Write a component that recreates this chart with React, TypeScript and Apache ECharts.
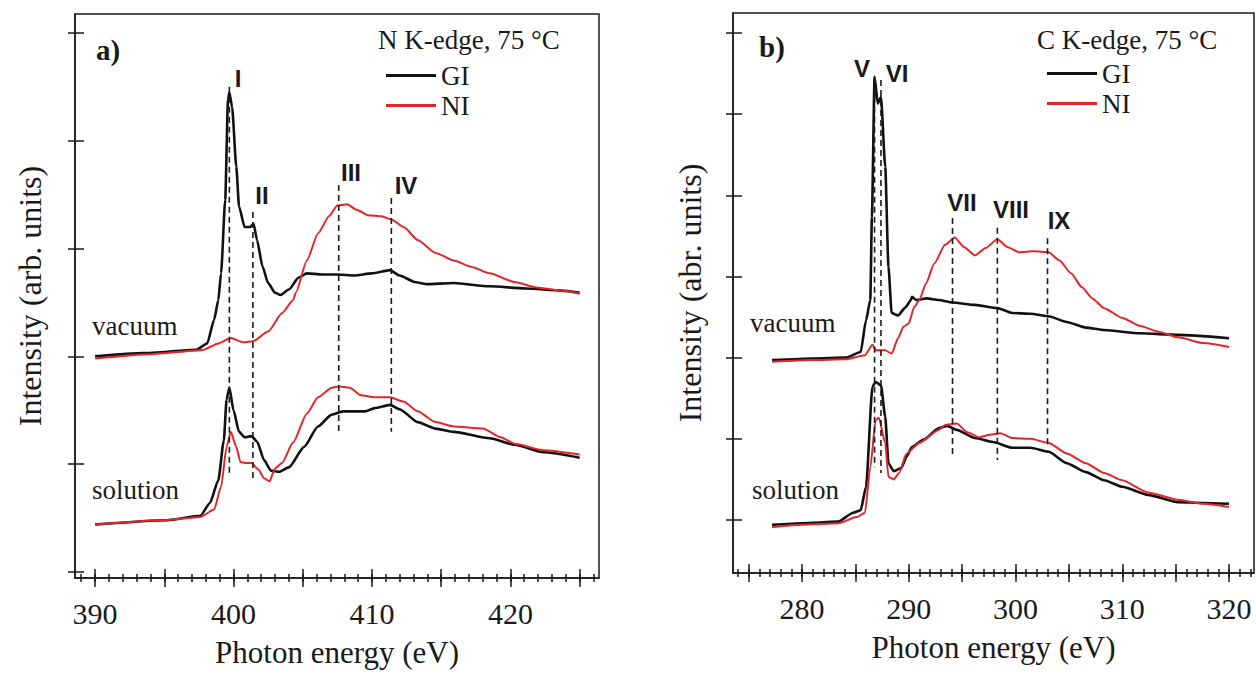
import React, { useEffect, useRef } from "react";
import * as echarts from "echarts";

// ---------------- DATA ----------------
// Panel a: N K-edge (x: photon energy eV, y: intensity in tick units)
const giVacuumA: number[][] = [
  [390, 2.0], [393.5, 2.03], [397.3, 2.06], [398.1, 2.12], [398.6, 2.34], [398.9, 2.52], [399.1, 2.77],
  [399.4, 3.45], [399.6, 4.38], [399.7, 4.45], [399.9, 4.31], [400.2, 3.76], [400.4, 3.39], [400.8, 3.2],
  [401.2, 3.2], [401.45, 3.23], [401.7, 3.08], [402.1, 2.83], [402.5, 2.68], [403.0, 2.59], [403.4, 2.57],
  [404.0, 2.62], [404.7, 2.73], [405.3, 2.77], [406.4, 2.76], [407.6, 2.76], [408.7, 2.75], [410.0, 2.77],
  [411.3, 2.8], [412.0, 2.75], [413.1, 2.69], [413.9, 2.67], [415.9, 2.68], [418.5, 2.65], [421.1, 2.63],
  [423.7, 2.61], [425.0, 2.59],
];
const niVacuumA: number[][] = [
  [390, 1.98], [394, 2.02], [397.8, 2.06], [398.9, 2.12], [399.8, 2.17], [400.7, 2.13], [401.4, 2.14],
  [402.5, 2.23], [403.5, 2.4], [404.3, 2.52], [404.5, 2.59], [405.3, 2.89], [406.1, 3.14], [406.9, 3.3],
  [407.5, 3.4], [408.2, 3.41], [408.9, 3.36], [409.7, 3.31], [410.7, 3.3], [411.4, 3.27], [412.3, 3.2],
  [413.3, 3.08], [414.6, 2.96], [415.9, 2.89], [417.2, 2.83], [418.5, 2.77], [420.3, 2.69], [421.9, 2.64],
  [423.7, 2.61], [425.0, 2.58],
];
const giSolutionA: number[][] = [
  [390, 0.44], [395.2, 0.48], [397.6, 0.52], [398.3, 0.64], [398.9, 0.85], [399.3, 1.22], [399.5, 1.6],
  [399.7, 1.71], [400.0, 1.5], [400.4, 1.3], [400.8, 1.25], [401.3, 1.26], [401.7, 1.21], [402.2, 1.04],
  [402.7, 0.94], [403.3, 0.93], [404.0, 0.97], [405.1, 1.16], [406.1, 1.35], [407.1, 1.46], [407.9, 1.49],
  [409.5, 1.49], [410.2, 1.52], [411.3, 1.55], [412.0, 1.51], [413.3, 1.39], [414.6, 1.33], [415.9, 1.3],
  [418.5, 1.24], [420.3, 1.18], [422.4, 1.11], [425.0, 1.06],
];
const niSolutionA: number[][] = [
  [390, 0.44], [395, 0.48], [397.6, 0.51], [398.6, 0.58], [399.1, 0.79], [399.5, 1.16], [399.8, 1.3],
  [400.2, 1.16], [400.5, 1.02], [400.9, 1.01], [401.3, 1.01], [401.8, 0.95], [402.2, 0.87], [402.6, 0.84],
  [403.0, 0.96], [403.5, 1.01], [404.3, 1.2], [405.3, 1.47], [406.1, 1.62], [407.1, 1.71], [407.6, 1.72],
  [408.4, 1.71], [409.2, 1.64], [410.2, 1.62], [411.3, 1.62], [412.3, 1.58], [413.3, 1.49], [414.6, 1.39],
  [415.9, 1.35], [418.0, 1.33], [419.3, 1.25], [420.3, 1.19], [422.4, 1.13], [425.0, 1.09],
];
const markerNamesA = ["I", "II", "III", "IV"];
const markerEnergyA = [399.7, 401.4, 407.6, 411.4];
const markerTopA = [4.5, 3.34, 3.59, 3.47];
const markerBottomA = [0.92, 0.85, 1.27, 1.3];

// Panel b: C K-edge
const giVacuumB: number[][] = [
  [277.2, 1.97], [281, 1.99], [284.1, 2.0], [285.5, 2.07], [286.0, 2.46], [286.4, 2.71], [286.55, 3.73],
  [286.8, 5.46], [287.1, 5.13], [287.4, 5.21], [287.8, 4.35], [288.1, 3.12], [288.4, 2.55], [289.0, 2.52],
  [289.7, 2.62], [290.2, 2.71], [290.3, 2.75], [290.7, 2.71], [291.7, 2.73], [292.8, 2.71], [294.1, 2.68],
  [296.2, 2.65], [298.3, 2.61], [299.7, 2.55], [301.4, 2.54], [303.1, 2.51], [304.8, 2.44], [306.6, 2.37],
  [308.3, 2.34], [311.7, 2.3], [315.2, 2.28], [320.0, 2.24],
];
const niVacuumB: number[][] = [
  [277.2, 1.95], [281, 1.97], [284.1, 1.98], [285.9, 2.03], [286.6, 2.16], [286.9, 2.09], [287.8, 2.09],
  [288.4, 2.05], [289.0, 2.24], [289.5, 2.38], [290.0, 2.42], [290.5, 2.62], [291.0, 2.71], [291.6, 2.91],
  [292.4, 3.16], [293.4, 3.39], [294.3, 3.48], [295.2, 3.36], [296.2, 3.26], [297.2, 3.35], [298.3, 3.46],
  [299.3, 3.36], [300.3, 3.3], [301.7, 3.31], [303.1, 3.3], [304.1, 3.2], [305.2, 3.04], [306.2, 2.87],
  [307.2, 2.73], [308.3, 2.61], [310.0, 2.49], [311.7, 2.39], [313.4, 2.32], [315.2, 2.25], [317.6, 2.18],
  [320.0, 2.13],
];
const giSolutionB: number[][] = [
  [277.2, -0.06], [280, -0.04], [283.4, -0.02], [284.8, 0.09], [285.5, 0.12], [286.0, 0.41], [286.6, 1.64],
  [286.9, 1.7], [287.4, 1.66], [287.8, 1.27], [288.1, 0.7], [288.6, 0.6], [289.3, 0.64], [289.8, 0.78],
  [290.3, 0.9], [291.4, 0.99], [292.8, 1.13], [293.6, 1.16], [294.5, 1.11], [296.2, 1.01], [297.9, 0.96],
  [299.7, 0.89], [301.4, 0.89], [303.1, 0.84], [304.8, 0.7], [306.6, 0.59], [308.3, 0.49], [310.0, 0.41],
  [312.4, 0.31], [315.2, 0.22], [317.6, 0.21], [320.0, 0.2],
];
const niSolutionB: number[][] = [
  [277.2, -0.09], [280, -0.06], [283.4, -0.04], [285.2, 0.04], [285.9, 0.09], [286.4, 0.65], [286.9, 1.23],
  [287.2, 1.26], [287.8, 0.95], [288.1, 0.53], [288.6, 0.5], [289.1, 0.58], [289.8, 0.82], [291.0, 0.95],
  [292.8, 1.11], [293.4, 1.17], [294.5, 1.19], [295.5, 1.08], [296.6, 1.02], [297.6, 1.05], [298.6, 1.07],
  [299.7, 1.01], [301.4, 1.0], [303.1, 0.95], [304.8, 0.82], [306.6, 0.7], [308.3, 0.58], [310.0, 0.49],
  [312.4, 0.34], [315.2, 0.25], [317.6, 0.2], [320.0, 0.16],
];
const markerNamesB = ["V", "VI", "VII", "VIII", "IX"];
const markerEnergyB = [286.8, 287.4, 294.1, 298.3, 303.0];
const markerTopB = [5.46, 5.42, 3.72, 3.6, 3.47];
const markerBottomB = [0.65, 0.58, 0.8, 0.74, 0.9];

// Axes
const xLabelsA = [390, 400, 410, 420];
const xMajorA = [390, 395, 400, 405, 410, 415, 420, 425];
const xMinorA = Array.from({ length: 38 }, (_, i) => 389 + i); // 389..426
const yTicksA = [0, 1, 2, 3, 4, 5];
const xLabelsB = [280, 290, 300, 310, 320];
const xMajorB = [275, 280, 285, 290, 295, 300, 305, 310, 315, 320];
const xMinorB = Array.from({ length: 49 }, (_, i) => 274 + i); // 274..322
const yTicksB = [0, 1, 2, 3, 4, 5, 6];

const rangeA = { xMin: 388.55, xMax: 426.4, yMin: -0.056, yMax: 5.176 };
const rangeB = { xMin: 273.54, xMax: 322.34, yMin: -0.653, yMax: 6.246 };

// ---------------- STYLE ----------------
const SERIF = "'Liberation Serif', 'Times New Roman', serif";
const SANS = "'Liberation Sans', Arial, sans-serif";
const INK = "#1a1a1a";
const BLACK = "#111111";
const RED = "#e3262b";

function xAxes(grid: number, r: any, labels: number[], major: number[], minor: number[]) {
  const base = { type: "value", gridIndex: grid, min: r.xMin, max: r.xMax, position: "bottom", splitLine: { show: false } };
  const tickStyle = { color: INK, width: 1.5 };
  const hiddenLine = { show: false, onZero: false };
  return [
    {
      ...base,
      name: "Photon energy (eV)",
      nameLocation: "middle",
      nameGap: 59,
      nameTextStyle: { fontSize: 31, fontFamily: SERIF, color: INK },
      axisLine: { show: true, onZero: false, lineStyle: { color: INK, width: 1.5 } },
      axisTick: { show: true, inside: false, length: 9, lineStyle: tickStyle, customValues: major },
      axisLabel: { show: true, customValues: labels, fontSize: 30, fontFamily: SERIF, color: INK, margin: 20 },
    },
    { ...base, axisLine: hiddenLine, axisLabel: { show: false }, axisTick: { show: true, inside: true, length: 9, lineStyle: tickStyle, customValues: major } },
    { ...base, axisLine: hiddenLine, axisLabel: { show: false }, axisTick: { show: true, inside: false, length: 4, lineStyle: tickStyle, customValues: minor } },
    { ...base, axisLine: hiddenLine, axisLabel: { show: false }, axisTick: { show: true, inside: true, length: 4, lineStyle: tickStyle, customValues: minor } },
  ];
}

function yAxes(grid: number, r: any, ticks: number[], title: string, gap: number) {
  const base = { type: "value", gridIndex: grid, min: r.yMin, max: r.yMax, position: "left", splitLine: { show: false } };
  const tickStyle = { color: INK, width: 1.5 };
  return [
    {
      ...base,
      name: title,
      nameLocation: "middle",
      nameGap: gap,
      nameTextStyle: { fontSize: 32, fontFamily: SERIF, color: INK },
      axisLine: { show: true, onZero: false, lineStyle: { color: INK, width: 1.5 } },
      axisTick: { show: true, inside: false, length: 7, lineStyle: tickStyle, customValues: ticks },
      axisLabel: { show: false },
    },
    { ...base, axisLine: { show: false, onZero: false }, axisLabel: { show: false }, axisTick: { show: true, inside: true, length: 9, lineStyle: tickStyle, customValues: ticks } },
  ];
}

function curve(name: string, data: number[][], xi: number, yi: number, color: string, width: number) {
  return {
    type: "line", name, data, xAxisIndex: xi, yAxisIndex: yi, symbol: "none",
    smooth: 0.2, smoothMonotone: "x", lineStyle: { color, width }, itemStyle: { color }, silent: true,
  };
}

function markers(energy: number[], top: number[], bottom: number[], xi: number, yi: number) {
  return energy.map((e, i) => ({
    type: "line", name: "marker", data: [[e, top[i]], [e, bottom[i]]], xAxisIndex: xi, yAxisIndex: yi,
    symbol: "none", silent: true, z: 5, lineStyle: { color: INK, width: 1.6, type: [6, 4] },
  }));
}

function txt(text: string, x: number, y: number, opts: any = {}) {
  return {
    type: "text", x, y, silent: true,
    style: {
      text, fill: INK, fontSize: opts.fontSize ?? 27, fontFamily: opts.fontFamily ?? SERIF,
      fontWeight: opts.fontWeight ?? "normal", align: opts.align ?? "left", verticalAlign: "middle",
    },
  };
}

export default function App() {
  const ref = useRef<HTMLDivElement>(null);
  useEffect(() => {
    if (!ref.current) return;
    const chart = echarts.init(ref.current, undefined, { renderer: "svg" });
    const romanPosA = [[238, 78], [262, 195], [351, 172], [406, 185]];
    const romanPosB = [[862, 68], [897, 73], [962, 202], [1011, 209], [1059, 220]];
    const option: any = {
      animation: false,
      backgroundColor: "#ffffff",
      grid: [
        { left: 75, top: 14, width: 524, height: 564, show: true, borderColor: INK, borderWidth: 1.5, backgroundColor: "transparent" },
        { left: 733, top: 13, width: 521, height: 560, show: true, borderColor: INK, borderWidth: 1.5, backgroundColor: "transparent" },
      ],
      xAxis: [...xAxes(0, rangeA, xLabelsA, xMajorA, xMinorA), ...xAxes(1, rangeB, xLabelsB, xMajorB, xMinorB)],
      yAxis: [...yAxes(0, rangeA, yTicksA, "Intensity (arb. units)", 29), ...yAxes(1, rangeB, yTicksB, "Intensity (abr. units)", 27)],
      legend: [
        {
          data: ["GI", "NI"], orient: "vertical", left: 381, top: 57, itemWidth: 50, itemHeight: 3, icon: "rect",
          itemGap: 3, selectedMode: false, textStyle: { fontSize: 27, fontFamily: SERIF, color: INK, lineHeight: 27 },
        },
        {
          data: ["GI", "NI"], orient: "vertical", left: 1042, top: 55, itemWidth: 50, itemHeight: 3, icon: "rect",
          itemGap: 3, selectedMode: false, textStyle: { fontSize: 27, fontFamily: SERIF, color: INK, lineHeight: 27 },
        },
      ],
      series: [
        curve("GI", giVacuumA, 0, 0, BLACK, 2.6),
        curve("NI", niVacuumA, 0, 0, RED, 2),
        curve("GI", giSolutionA, 0, 0, BLACK, 2.6),
        curve("NI", niSolutionA, 0, 0, RED, 2),
        curve("GI", giVacuumB, 4, 2, BLACK, 2.6),
        curve("NI", niVacuumB, 4, 2, RED, 2),
        curve("GI", giSolutionB, 4, 2, BLACK, 2.6),
        curve("NI", niSolutionB, 4, 2, RED, 2),
        ...markers(markerEnergyA, markerTopA, markerBottomA, 0, 0),
        ...markers(markerEnergyB, markerTopB, markerBottomB, 4, 2),
      ],
      graphic: [
        txt("a)", 96, 50, { fontWeight: "bold", fontSize: 29 }),
        txt("b)", 759, 47, { fontWeight: "bold", fontSize: 29 }),
        txt("N K-edge, 75 °C", 378, 40),
        txt("C K-edge, 75 °C", 1037, 40),
        txt("vacuum", 92, 326),
        txt("solution", 92, 490),
        txt("vacuum", 750, 323),
        txt("solution", 752, 490),
        ...markerNamesA.map((n, i) => txt(n, romanPosA[i][0], romanPosA[i][1], { fontFamily: SANS, fontWeight: "bold", fontSize: 24, align: "center" })),
        ...markerNamesB.map((n, i) => txt(n, romanPosB[i][0], romanPosB[i][1], { fontFamily: SANS, fontWeight: "bold", fontSize: 24, align: "center" })),
      ],
    };
    chart.setOption(option);
    return () => chart.dispose();
  }, []);
  return <div ref={ref} style={{ position: "fixed", left: 0, top: 0, width: 1256, height: 674, background: "#fff" }} />;
}
